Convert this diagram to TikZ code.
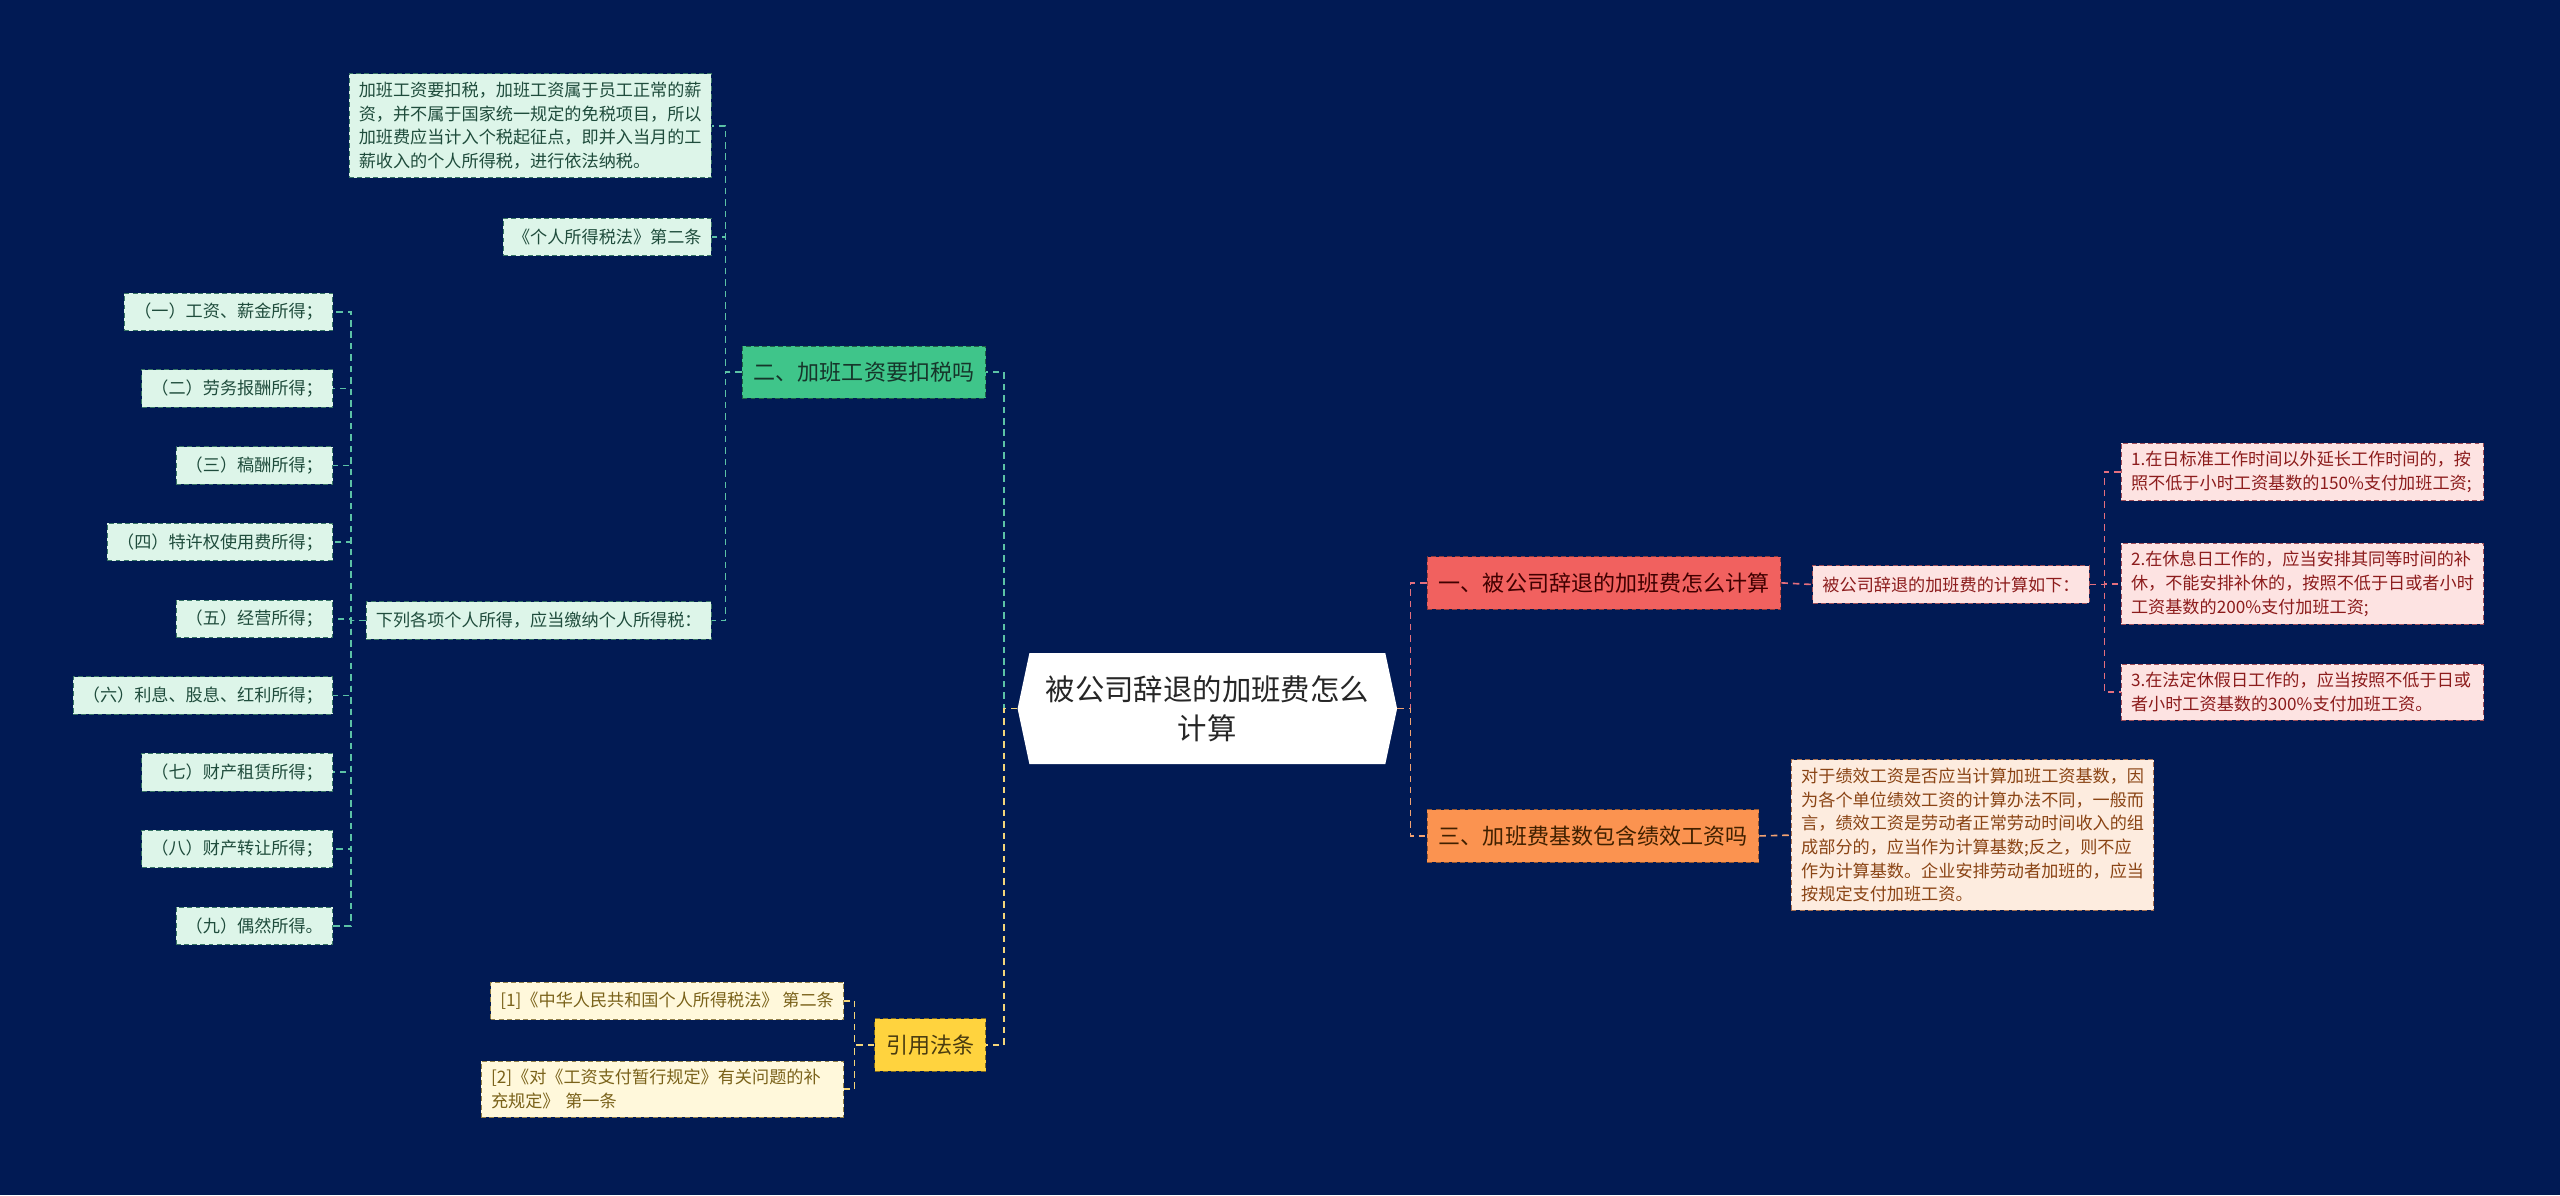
\documentclass[tikz,border=0pt]{standalone}
\usepackage{fontspec}
\setmainfont{Noto Sans CJK SC}
\usepackage{tikz}
\usetikzlibrary{shapes.symbols}
\definecolor{bgnavy}{HTML}{011A54}
\definecolor{redmain}{HTML}{F1615F}
\definecolor{redleaf}{HTML}{FDE3E2}
\definecolor{redtext}{HTML}{8C1C1C}
\definecolor{redlink}{HTML}{E46F7E}
\definecolor{orgmain}{HTML}{FB9350}
\definecolor{orgleaf}{HTML}{FDECDF}
\definecolor{orgtext}{HTML}{8A4414}
\definecolor{orglink}{HTML}{F2A272}
\definecolor{grnmain}{HTML}{3FC58A}
\definecolor{grnleaf}{HTML}{DDF5E9}
\definecolor{grntext}{HTML}{1F4C3C}
\definecolor{grnlink}{HTML}{5CC2A6}
\definecolor{ylwmain}{HTML}{FFD33E}
\definecolor{ylwleaf}{HTML}{FFF8DB}
\definecolor{ylwtext}{HTML}{7A621A}
\definecolor{ylwlink}{HTML}{F3D57A}

\begin{document}
\begin{tikzpicture}[x=1pt,y=-1pt,
  root/.style={shape=signal, signal to=west and east, signal pointer angle=156,
    fill=white, align=center, text width=200pt, minimum height=68pt, inner xsep=9pt,
    font=\fontsize{18}{24}\selectfont, text=black!85},
  branch/.style={draw, dash pattern=on 3pt off 2pt, line width=0.6pt, inner xsep=7pt,
    minimum height=32pt, font=\fontsize{13.5}{16}\selectfont},
  leaf/.style={draw, dash pattern=on 3pt off 2pt, line width=0.5pt, inner xsep=6pt,
    inner ysep=5pt, align=left, font=\fontsize{10.5}{14.5}\selectfont},
  leafone/.style={leaf, minimum height=23pt},
  leafbox/.style={leaf, text width=210pt},
  link/.style={dash pattern=on 4pt off 3pt, line width=1pt},
  grn/.style={leaf, fill=grnleaf, draw=grnlink!60!black, text=grntext},
  red/.style={leaf, fill=redleaf, draw=redlink!70!black, text=redtext},
]
\fill[bgnavy] (0,0) rectangle (1568,732);
\useasboundingbox (0,0) rectangle (1568,732);

% centre
\node[root] (root) at (739.5,434) {被公司辞退的加班费怎么\\计算};
\coordinate (rj) at ([xshift=8pt]root.east);
\coordinate (lj) at ([xshift=-8pt]root.west);

% branches
\node[branch, fill=redmain, draw=redmain!60!black, text=black!75!red, anchor=west] (b1) at (874,357) {一、被公司辞退的加班费怎么计算};
\node[branch, fill=orgmain, draw=orgmain!60!black, text=black!75!orange, anchor=west] (b3) at (874,512) {三、加班费基数包含绩效工资吗};
\node[branch, fill=grnmain, draw=grnmain!50!black, text=grntext!70!black, anchor=east] (b2) at (604,228) {二、加班工资要扣税吗};
\node[branch, fill=ylwmain, draw=ylwmain!50!black, text=ylwtext!60!black, anchor=east] (b4) at (604,640) {引用法条};

\draw[link, redlink] (root.east) -- (rj) |- (b1.west);
\draw[link, orglink] (root.east) -- (rj) |- (b3.west);
\draw[link, grnlink] (root.west) -- (lj) |- (b2.east);
\draw[link, ylwlink] (root.west) -- (lj) |- (b4.east);

% branch one
\node[red, leafone, anchor=west] (r0) at (1110,358) {被公司辞退的加班费的计算如下：};
\draw[link, redlink] (b1.east) -- (r0.west);
\coordinate (j1) at ([xshift=9pt]r0.east);
\node[red, leafbox, anchor=west] (r1) at (1299,289) {1.在日标准工作时间以外延长工作时间的，按\\照不低于小时工资基数的150\%支付加班工资;};
\node[red, leafbox, anchor=west] (r2) at (1299,357.5) {2.在休息日工作的，应当安排其同等时间的补\\休，不能安排补休的，按照不低于日或者小时\\工资基数的200\%支付加班工资;};
\node[red, leafbox, anchor=west] (r3) at (1299,424) {3.在法定休假日工作的，应当按照不低于日或\\者小时工资基数的300\%支付加班工资。};
\foreach \n in {r1,r2,r3}
  \draw[link, redlink] (r0.east) -- (j1) |- (\n.west);

% branch three
\node[leafbox, fill=orgleaf, draw=orglink!70!black, text=orgtext, anchor=west] (o1) at (1097,511.5) {对于绩效工资是否应当计算加班工资基数，因\\为各个单位绩效工资的计算办法不同，一般而\\言，绩效工资是劳动者正常劳动时间收入的组\\成部分的，应当作为计算基数;反之，则不应\\作为计算基数。企业安排劳动者加班的，应当\\按规定支付加班工资。};
\draw[link, orglink] (b3.east) -- (o1.west);

% branch two
\coordinate (j2) at ([xshift=-10pt]b2.west);
\node[grn, leafbox, anchor=east] (g1) at (436,77) {加班工资要扣税，加班工资属于员工正常的薪\\资，并不属于国家统一规定的免税项目，所以\\加班费应当计入个税起征点，即并入当月的工\\薪收入的个人所得税，进行依法纳税。};
\node[grn, leafone, anchor=east] (g2) at (436,145) {《个人所得税法》第二条};
\node[grn, leafone, anchor=east] (g3) at (436,380) {下列各项个人所得，应当缴纳个人所得税：};
\foreach \n in {g1,g2,g3}
  \draw[link, grnlink] (b2.west) -- (j2) |- (\n.east);

\coordinate (j3) at ([xshift=-9pt]g3.west);
\foreach \i/\t/\y in {1/（一）工资、薪金所得；/191, 2/（二）劳务报酬所得；/238,
    3/（三）稿酬所得；/285, 4/（四）特许权使用费所得；/332, 5/（五）经营所得；/379,
    6/（六）利息、股息、红利所得；/426, 7/（七）财产租赁所得；/473,
    8/（八）财产转让所得；/520, 9/（九）偶然所得。/567} {
  \node[grn, leafone, anchor=east] (in\i) at (204,\y) {\t};
  \draw[link, grnlink] (g3.west) -- (j3) |- (in\i.east);
}

% branch four
\coordinate (j4) at ([xshift=-12pt]b4.west);
\node[leafone, fill=ylwleaf, draw=ylwlink!60!black, text=ylwtext, anchor=east] (y1) at (517,613) {[1]《中华人民共和国个人所得税法》 第二条};
\node[leafbox, fill=ylwleaf, draw=ylwlink!60!black, text=ylwtext, anchor=east] (y2) at (517,667) {[2]《对《工资支付暂行规定》有关问题的补\\充规定》 第一条};
\foreach \n in {y1,y2}
  \draw[link, ylwlink] (b4.west) -- (j4) |- (\n.east);
\end{tikzpicture}
\end{document}
